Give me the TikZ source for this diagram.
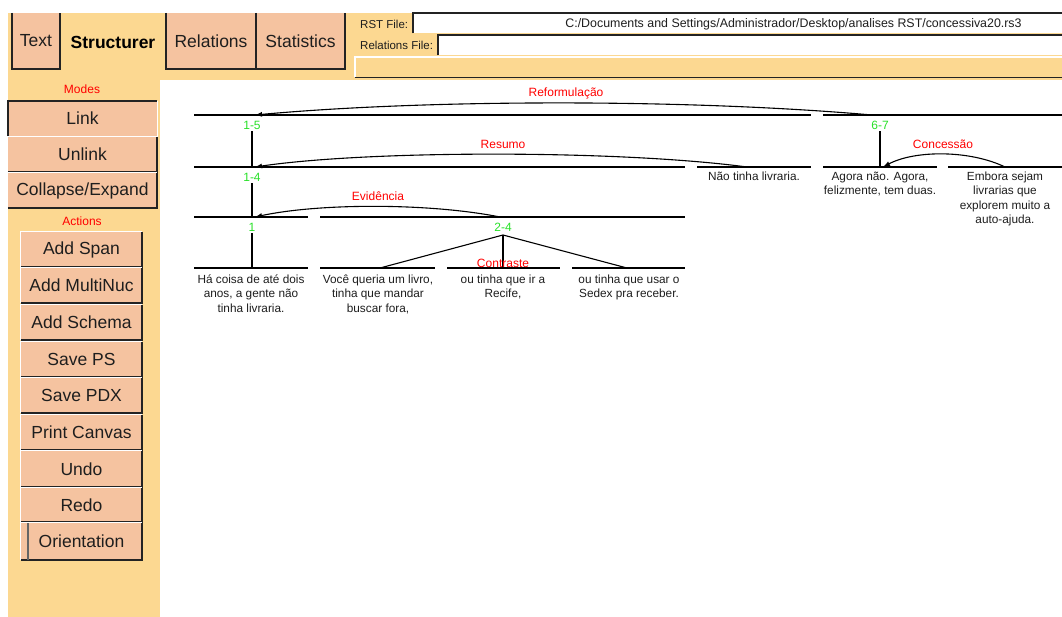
\documentclass[tikz,border=0pt]{standalone}
\usepackage{fontspec}
\setmainfont{Liberation Sans}
\usetikzlibrary{arrows.meta}
\definecolor{panel}{RGB}{252,216,145}
\definecolor{btnc}{RGB}{245,195,160}
\definecolor{txtc}{RGB}{30,30,30}
\definecolor{dk}{RGB}{35,35,35}
\definecolor{rstred}{RGB}{255,0,0}
\definecolor{rstgreen}{RGB}{40,225,40}
\tikzset{
  btn/.style={fill=btnc, inner sep=0pt, text=txtc, font=\fontsize{17.5}{20}\selectfont},
  darkedge/.style={draw=dk, line width=1.6pt},
  lightedge/.style={draw=white, line width=1.2pt},
  spanline/.style={draw=black, line width=1.1pt},
  arcline/.style={draw=black, line width=1.1pt, -{Latex[length=7pt,width=5pt]}},
  rel/.style={text=rstred, font=\fontsize{12}{14}\selectfont, inner sep=0pt},
  spanlab/.style={text=rstgreen, font=\fontsize{12}{14}\selectfont, inner sep=0pt},
  seg/.style={text=txtc, font=\fontsize{11.8}{14.4}\selectfont, align=center, inner sep=0pt, anchor=north},
  fieldlab/.style={text=txtc, font=\fontsize{11.5}{13}\selectfont, inner sep=0pt, anchor=west},
  modelab/.style={text=rstred, font=\fontsize{12}{14}\selectfont, inner sep=0pt}
}
\begin{document}
\begin{tikzpicture}[x=1pt, y=-1pt]
\useasboundingbox (0,0) rectangle (1062,617);
\fill[white] (0,0) rectangle (1062,617);
% orange panels
\fill[panel] (8,13) rectangle (1062,80);
\fill[panel] (8,13) rectangle (160,617);
% tabs
\node[btn, minimum width=48pt, minimum height=56pt] (tText) at (36,41) {Text};
\node[text=black, font=\fontsize{17.5}{20}\selectfont\bfseries, inner sep=0pt] (tStruct) at (113,42) {Structurer};
\node[btn, minimum width=90pt, minimum height=56pt] (tRel) at (211,41) {Relations};
\node[btn, minimum width=89pt, minimum height=56pt] (tStat) at (300.5,41) {Statistics};
\foreach \n in {tText,tRel,tStat}{
  \draw[lightedge] (\n.north west) -- (\n.north east);
  \draw[darkedge] (\n.north west) -- (\n.south west) -- (\n.south east) -- (\n.north east);
}
% file fields
\node[fieldlab] (rstlab) at (360,24) {RST File:};
\node[fill=white, minimum width=649pt, minimum height=20pt, inner sep=0pt, anchor=north west] (rstfield) at (413,13) {};
\draw[darkedge] (rstfield.south west) -- (rstfield.north west) -- (rstfield.north east);
\node[text=txtc, font=\fontsize{12.4}{14}\selectfont, inner sep=0pt] (rstpath) at (793.5,24) {C:/Documents and Settings/Administrador/Desktop/analises RST/concessiva20.rs3};
\node[fieldlab] (rellab) at (360,45) {Relations File:};
\node[fill=white, minimum width=624pt, minimum height=20pt, inner sep=0pt, anchor=north west] (relfield) at (438,35) {};
\draw[darkedge] (relfield.south west) -- (relfield.north west) -- (relfield.north east);
\node[fill=panel, minimum width=707pt, minimum height=20pt, inner sep=0pt, anchor=north west] (status) at (355,57) {};
\draw[lightedge] (status.south west) -- (status.north west) -- (status.north east);
\draw[darkedge] (status.south west) -- (status.south east);
% canvas
\fill[white] (160,80) rectangle (1062,617);
% left panel
\node[modelab] (modes) at (82,89) {Modes};
\node[btn, minimum width=149pt, minimum height=35pt] (bLink) at (82.5,118.5) {Link};
\node[btn, minimum width=149pt, minimum height=35pt] (bUnlink) at (82.5,154.5) {Unlink};
\node[btn, minimum width=149pt, minimum height=35pt] (bColl) at (82.5,190.5) {Collapse/Expand};
\node[modelab] (actions) at (82,221) {Actions};
\node[btn, minimum width=121pt, minimum height=35pt] (bSpan) at (81.5,249.5) {Add Span};
\node[btn, minimum width=121pt, minimum height=35pt] (bMulti) at (81.5,285.5) {Add MultiNuc};
\node[btn, minimum width=121pt, minimum height=35pt] (bSchema) at (81.5,322.5) {Add Schema};
\node[btn, minimum width=121pt, minimum height=35pt] (bPS) at (81.5,359.5) {Save PS};
\node[btn, minimum width=121pt, minimum height=35pt] (bPDX) at (81.5,395.5) {Save PDX};
\node[btn, minimum width=121pt, minimum height=35pt] (bPrint) at (81.5,432.5) {Print Canvas};
\node[btn, minimum width=121pt, minimum height=36pt] (bUndo) at (81.5,469) {Undo};
\node[btn, minimum width=121pt, minimum height=34pt] (bRedo) at (81.5,505) {Redo};
\node[btn, minimum width=121pt, minimum height=37pt] (bOrient) at (81.5,541.5) {Orientation};
\draw[darkedge] (bLink.south west) -- (bLink.north west) -- (bLink.north east);
\draw[lightedge] (bLink.south west) -- (bLink.south east) -- (bLink.north east);
\foreach \n in {bUnlink,bColl,bSpan,bMulti,bSchema,bPS,bPDX,bPrint,bUndo,bRedo,bOrient}{
  \draw[lightedge] (\n.south west) -- (\n.north west) -- (\n.north east);
  \draw[darkedge] (\n.south west) -- (\n.south east) -- (\n.north east);
}
\draw[draw=dk!70, line width=1.2pt] (28,523) -- (28,560);
% span lines
\draw[spanline] (194,115) -- (811,115);
\draw[spanline] (823,115) -- (1062,115);
\draw[spanline] (194,167) -- (685,167);
\draw[spanline] (697,167) -- (811,167);
\draw[spanline] (823,167) -- (937,167);
\draw[spanline] (948,167) -- (1062,167);
\draw[spanline] (194,217) -- (308,217);
\draw[spanline] (320,217) -- (685,217);
\draw[spanline] (194,268) -- (308,268);
\draw[spanline] (320,268) -- (435,268);
\draw[spanline] (447,268) -- (560,268);
\draw[spanline] (572,268) -- (685,268);
% span labels
\node[spanlab] (l15) at (252,125) {1-5};
\node[spanlab] (l14) at (252,177) {1-4};
\node[spanlab] (l1) at (252,227) {1};
\node[spanlab] (l24) at (503,227) {2-4};
\node[spanlab] (l67) at (880,125) {6-7};
% anchor points
\coordinate (p15) at (255,115);
\coordinate (p14) at (255,167);
\coordinate (p1) at (255,217);
\coordinate (p24top) at (500,217);
\coordinate (p5) at (747,167);
\coordinate (p67top) at (872,115);
\coordinate (p6) at (883,167);
\coordinate (p7) at (1005,167);
\coordinate (s1) at (252,268);
\coordinate (s2) at (380,268);
\coordinate (s3) at (503,268);
\coordinate (s4) at (627,268);
% verticals
\draw[spanline] (l15.south) ++(0,2) -- (252,167);
\draw[spanline] (l14.south) ++(0,2) -- (252,217);
\draw[spanline] (l1.south) ++(0,2) -- (s1);
\draw[spanline] (l67.south) ++(0,2) -- (880,167);
\draw[spanline] (s2) -- (503,235) -- (s4);
\draw[spanline] (503,235) -- (s3);
% relation arcs
\draw[arcline] (p67top) .. controls (690,99) and (430,99) .. (p15);
\draw[arcline] (p5) .. controls (620,150) and (370,150) .. (p14);
\draw[arcline] (p24top) .. controls (430,203) and (320,203) .. (p1);
\draw[arcline] (p7) .. controls (970,150) and (915,150) .. (p6);
\node[rel] (rReform) at (566,93) {Reformulação};
\node[rel] (rResumo) at (503,144) {Resumo};
\node[rel] (rEvid) at (378,196) {Evidência};
\node[rel] (rConc) at (943,144) {Concessão};
\node[rel] (rContr) at (503,263) {Contraste};
% segment texts
\node[seg] (t1) at (251,273) {\strut Há coisa de até dois\\anos, a gente não\\tinha livraria.};
\node[seg] (t2) at (378,273) {\strut Você queria um livro,\\tinha que mandar\\buscar fora,};
\node[seg] (t3) at (503,273) {\strut ou tinha que ir a\\Recife,};
\node[seg] (t4) at (629,273) {\strut ou tinha que usar o\\Sedex pra receber.};
\node[seg] (t5) at (754,170) {\strut Não tinha livraria.};
\node[seg] (t6) at (880,170) {\strut Agora não. Agora,\\felizmente, tem duas.};
\node[seg] (t7) at (1005,170) {\strut Embora sejam\\livrarias que\\explorem muito a\\auto-ajuda.};
\end{tikzpicture}
\end{document}
